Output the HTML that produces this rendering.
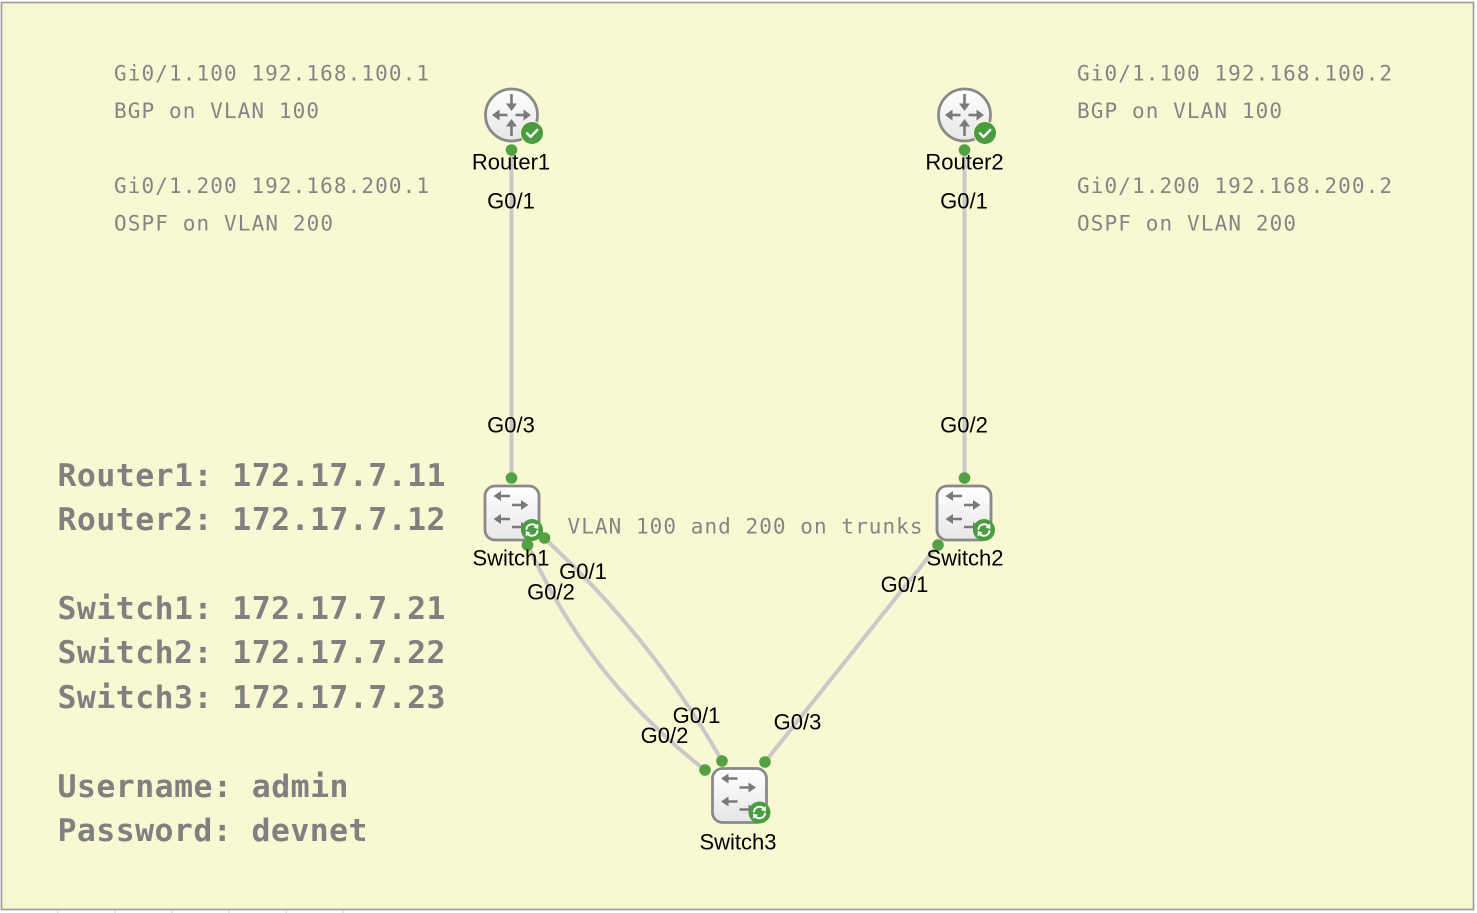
<!DOCTYPE html>
<html><head><meta charset="utf-8"><style>
html,body{margin:0;padding:0;background:#fff;}
svg{display:block;}
.m{font-family:"DejaVu Sans Mono","Liberation Mono",monospace;font-size:21px;fill:#858585;}
.b{font-family:"DejaVu Sans Mono","Liberation Mono",monospace;font-size:31.5px;font-weight:bold;fill:#808080;}
.l{font-family:"Liberation Sans",Arial,sans-serif;font-size:22px;fill:#000;text-anchor:middle;}
</style></head><body>
<svg width="1477" height="913" viewBox="0 0 1477 913" xmlns="http://www.w3.org/2000/svg">
<defs>
<linearGradient id="rg" x1="0" y1="0" x2="0" y2="1"><stop offset="0" stop-color="#ffffff"/><stop offset="1" stop-color="#e6e6e6"/></linearGradient>
<g id="router">
 <circle r="26" fill="url(#rg)" stroke="#8a8a8a" stroke-width="2.8"/>
 <g stroke="#7a7a7a" stroke-width="2.6" fill="none">
  <line x1="0" y1="-21" x2="0" y2="-10"/>
  <line x1="0" y1="21" x2="0" y2="10"/>
  <line x1="-4" y1="0" x2="-13" y2="0"/>
  <line x1="4" y1="0" x2="13" y2="0"/>
 </g>
 <g fill="#7a7a7a">
  <polygon points="0,-4 -5.5,-11.5 5.5,-11.5"/>
  <polygon points="0,4 -5.5,11.5 5.5,11.5"/>
  <polygon points="-19.5,0 -12,-5.5 -12,5.5"/>
  <polygon points="19.5,0 12,-5.5 12,5.5"/>
 </g>
 <circle cx="20.5" cy="18" r="11.5" fill="#4a9d3e" stroke="#f8f8d3" stroke-width="1"/>
 <path d="M15.5,18.3 l3.6,3.6 l6.6,-7" stroke="#fff" stroke-width="2.4" fill="none" stroke-linecap="round" stroke-linejoin="round"/>
</g>
<g id="switch">
 <rect x="-27" y="-27" width="54" height="54" rx="10" fill="url(#rg)" stroke="#8a8a8a" stroke-width="2.8"/>
 <g stroke="#7a7a7a" stroke-width="2.5" fill="none">
  <line x1="-2" y1="-17" x2="-12" y2="-17"/>
  <line x1="0" y1="-8" x2="10" y2="-8"/>
  <line x1="-2" y1="6" x2="-12" y2="6"/>
  <line x1="0" y1="14" x2="10" y2="14"/>
 </g>
 <g fill="#7a7a7a">
  <polygon points="-18.5,-17 -11,-22 -11,-12"/>
  <polygon points="16.5,-8 9,-13 9,-3"/>
  <polygon points="-18.5,6 -11,1 -11,11"/>
  <polygon points="16.5,14 9,9 9,19"/>
 </g>
 <circle cx="20" cy="17" r="11" fill="#4a9d3e"/>
 <g stroke="#fff" stroke-width="2" fill="none" stroke-linecap="round">
  <path d="M14.5,16 A5.6,5.6 0 0 1 24.5,13.5"/>
  <path d="M25.5,18 A5.6,5.6 0 0 1 15.5,20.5"/>
 </g>
 <g fill="#fff">
  <polygon points="26.3,10.5 26.3,16 21.5,14.5"/>
  <polygon points="13.7,23.5 13.7,18 18.5,19.5"/>
 </g>
</g>
</defs>

<rect x="1.5" y="2.5" width="1472" height="907" fill="#f8f8d3" stroke="#9a9a9a" stroke-width="1.6"/>
<g stroke="#cfcfcf" stroke-width="1">
 <line x1="58" y1="910" x2="58" y2="913"/><line x1="115" y1="910" x2="115" y2="913"/><line x1="172" y1="910" x2="172" y2="913"/><line x1="229" y1="910" x2="229" y2="913"/><line x1="286" y1="910" x2="286" y2="913"/><line x1="343" y1="910" x2="343" y2="913"/>
</g>

<!-- connectors -->
<g stroke="#c9c9c9" stroke-width="4" fill="none">
 <path d="M511.5,150 V478"/>
 <path d="M964.5,150 V478"/>
 <path d="M528,545 Q588,679 705,770"/>
 <path d="M544,538 Q651,636 722,761"/>
 <path d="M938,545 L765,762"/>
</g>

<!-- nodes -->
<use href="#router" x="511.5" y="115"/>
<use href="#router" x="964.5" y="115"/>
<use href="#switch" x="512" y="513"/>
<use href="#switch" x="964" y="513"/>
<use href="#switch" x="739.5" y="795.5"/>

<!-- port dots -->
<g fill="#55a043">
 <circle cx="511.5" cy="150" r="5.8"/>
 <circle cx="964.5" cy="150" r="5.8"/>
 <circle cx="511.5" cy="478" r="5.8"/>
 <circle cx="964.5" cy="478" r="5.8"/>
 <circle cx="527.5" cy="545" r="5.8"/>
 <circle cx="544.5" cy="538" r="5.8"/>
 <circle cx="938" cy="545" r="5.8"/>
 <circle cx="705" cy="770" r="5.8"/>
 <circle cx="722" cy="761" r="5.8"/>
 <circle cx="765" cy="762" r="5.8"/>
</g>

<!-- node labels -->
<text class="l" x="511" y="169.5">Router1</text>
<text class="l" x="964.5" y="169.5">Router2</text>
<text class="l" x="511" y="565.5">Switch1</text>
<text class="l" x="965" y="565.5">Switch2</text>
<text class="l" x="738" y="849.5">Switch3</text>

<!-- port labels -->
<text class="l" x="511" y="208.5">G0/1</text>
<text class="l" x="964" y="208.5">G0/1</text>
<text class="l" x="511" y="432.5">G0/3</text>
<text class="l" x="964" y="432.5">G0/2</text>
<text class="l" x="583" y="579">G0/1</text>
<text class="l" x="551" y="599.5">G0/2</text>
<text class="l" x="904.5" y="592">G0/1</text>
<text class="l" x="696.5" y="723">G0/1</text>
<text class="l" x="664.5" y="743">G0/2</text>
<text class="l" x="797.5" y="729.5">G0/3</text>

<!-- annotations -->
<text class="m" x="114" y="80.5" textLength="315" lengthAdjust="spacing">Gi0/1.100 192.168.100.1</text>
<text class="m" x="114" y="118" textLength="205" lengthAdjust="spacing">BGP on VLAN 100</text>
<text class="m" x="114" y="193" textLength="315" lengthAdjust="spacing">Gi0/1.200 192.168.200.1</text>
<text class="m" x="114" y="230.5" textLength="219" lengthAdjust="spacing">OSPF on VLAN 200</text>

<text class="m" x="1077" y="80.5" textLength="315" lengthAdjust="spacing">Gi0/1.100 192.168.100.2</text>
<text class="m" x="1077" y="118" textLength="205" lengthAdjust="spacing">BGP on VLAN 100</text>
<text class="m" x="1077" y="193" textLength="315" lengthAdjust="spacing">Gi0/1.200 192.168.200.2</text>
<text class="m" x="1077" y="230.5" textLength="219" lengthAdjust="spacing">OSPF on VLAN 200</text>

<text class="m" x="567.5" y="533.5" textLength="355" lengthAdjust="spacing">VLAN 100 and 200 on trunks</text>

<text class="b" x="57.5" y="486" textLength="388" lengthAdjust="spacing">Router1: 172.17.7.11</text>
<text class="b" x="57.5" y="530" textLength="388" lengthAdjust="spacing">Router2: 172.17.7.12</text>
<text class="b" x="57.5" y="619" textLength="388" lengthAdjust="spacing">Switch1: 172.17.7.21</text>
<text class="b" x="57.5" y="663" textLength="388" lengthAdjust="spacing">Switch2: 172.17.7.22</text>
<text class="b" x="57.5" y="708" textLength="388" lengthAdjust="spacing">Switch3: 172.17.7.23</text>
<text class="b" x="57.5" y="797" textLength="291" lengthAdjust="spacing">Username: admin</text>
<text class="b" x="57.5" y="841" textLength="310" lengthAdjust="spacing">Password: devnet</text>
</svg>
</body></html>
